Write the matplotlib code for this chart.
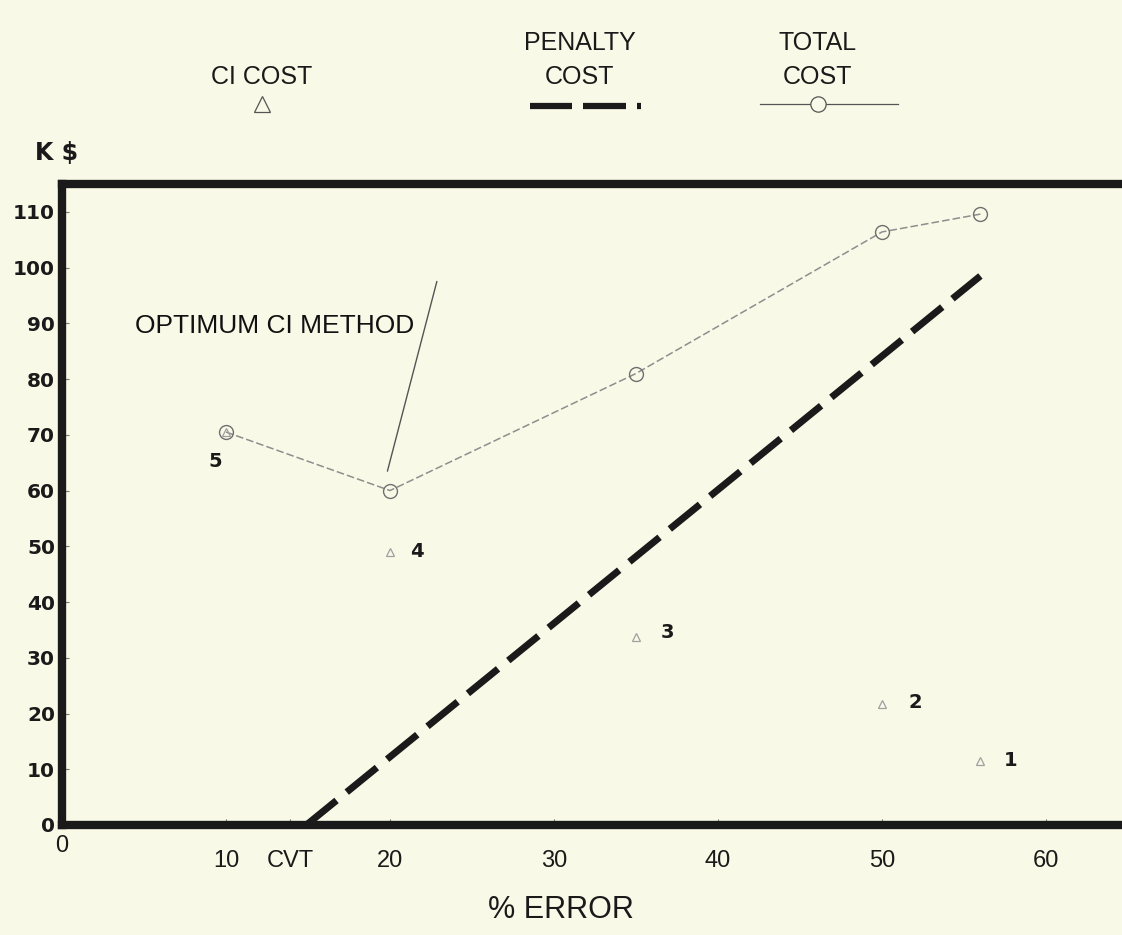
import matplotlib
matplotlib.use("Agg")
import matplotlib.pyplot as plt
from matplotlib.lines import Line2D

# values
error_pct = [10, 20, 35, 50, 56]
total_cost = [70.5, 60, 81, 106.4, 109.6]
ci_cost = [70.5, 49, 33.7, 21.7, 11.5]
method_labels = ["5", "4", "3", "2", "1"]
penalty_x = [14.9, 56]
penalty_y = [0, 98.5]
cvt_error = 13.9

x_ticks = [0, 10, 20, 30, 40, 50, 60]
y_ticks = [0, 10, 20, 30, 40, 50, 60, 70, 80, 90, 100, 110]

bg = "#f9f9e7"
ink = "#1a1a1a"
narrow = "Liberation Sans"
round_bold = "DejaVu Sans"

fig = plt.figure(figsize=(11.22, 9.35), dpi=100, facecolor=bg)
ax = fig.add_axes([62 / 1122, 1 - 825 / 935, (1128 - 62) / 1122, (825 - 184) / 935])
ax.set_facecolor(bg)
ax.set_xlim(0, 65.0)
ax.set_ylim(0, 115)

for side in ["left", "bottom", "top", "right"]:
    ax.spines[side].set_linewidth(6)
    ax.spines[side].set_color(ink)

# penalty cost - heavy dashed line
ax.plot(penalty_x, penalty_y, color=ink, lw=5, dashes=(5.6, 1.9),
        solid_capstyle="butt", dash_capstyle="butt", zorder=3)

# total cost - faint dashed line with open circles
ax.plot(error_pct, total_cost, color="#8e8e8e", lw=1.1, ls=(0, (5, 2)),
        marker="o", ms=10, mfc="none", mec="#707070", mew=1.0, zorder=4)

# CI cost - small open triangles
ax.plot(error_pct, ci_cost, ls="none", marker="^", ms=6, mfc="none",
        mec="#a0a0a0", mew=0.9, zorder=4)

label_offsets = [(-11, -29), (27, 0), (31, 5), (33, 2), (30, 0)]
for x, y, lab, off in zip(error_pct, ci_cost, method_labels, label_offsets):
    ax.annotate(lab, (x, y), xytext=off, textcoords="offset pixels",
                ha="center", va="center", fontsize=14, fontweight="bold",
                family=round_bold, color=ink)

ax.text(4.45, 89.5, "OPTIMUM CI METHOD", fontsize=19, family=narrow,
        color="#111111", ha="left", va="center")
ax.annotate("", xy=(19.8, 63), xytext=(22.9, 98),
            arrowprops=dict(arrowstyle="-", color="#555555", lw=1.0))

ax.set_yticks(y_ticks)
ax.set_yticklabels([str(v) for v in y_ticks], fontsize=14.5, fontweight="bold",
                   family=round_bold, color=ink)
ax.tick_params(axis="y", direction="in", length=5, width=0.8, color="#777777", pad=5)

ax.set_xticks(x_ticks + [cvt_error])
ax.set_xticklabels([str(v) for v in x_ticks] + ["CVT"], fontsize=17,
                   family=narrow, color=ink)
ax.tick_params(axis="x", direction="in", length=4, width=0.8, color="#777777", pad=18)
ax.xaxis.get_major_ticks()[0].set_pad(7)

fig.text(35 / 1122, 1 - 153 / 935, "K $", fontsize=17, fontweight="bold",
         family=round_bold, color=ink, ha="left", va="center")
fig.text(0.5, 1 - 910 / 935, "% ERROR", fontsize=22, family=narrow,
         color=ink, ha="center", va="center")

# legend drawn by hand in figure pixels
def fx(px):
    return px / 1122

def fy(py):
    return 1 - py / 935

leg_font = dict(fontsize=18, family=narrow, color=ink, ha="center", va="center")
fig.text(fx(262), fy(77), "CI COST", **leg_font)
fig.text(fx(580), fy(43), "PENALTY", **leg_font)
fig.text(fx(580), fy(77), "COST", **leg_font)
fig.text(fx(818), fy(43), "TOTAL", **leg_font)
fig.text(fx(818), fy(77), "COST", **leg_font)

fig.add_artist(Line2D([fx(262)], [fy(104)], marker="^", ms=11, mfc="none",
                      mec="#555555", mew=0.9, ls="none"))
for x0, x1 in [(530, 572), (583, 626), (637, 641)]:
    fig.add_artist(Line2D([fx(x0), fx(x1)], [fy(106), fy(106)], color=ink,
                          lw=4.5, solid_capstyle="butt"))
fig.add_artist(Line2D([fx(760), fx(898)], [fy(104), fy(104)], color="#555555", lw=0.9))
fig.add_artist(Line2D([fx(818)], [fy(104)], marker="o", ms=11, mfc=bg,
                      mec="#555555", mew=0.9, ls="none"))

fig.savefig("out.png", dpi=100, facecolor=bg)
